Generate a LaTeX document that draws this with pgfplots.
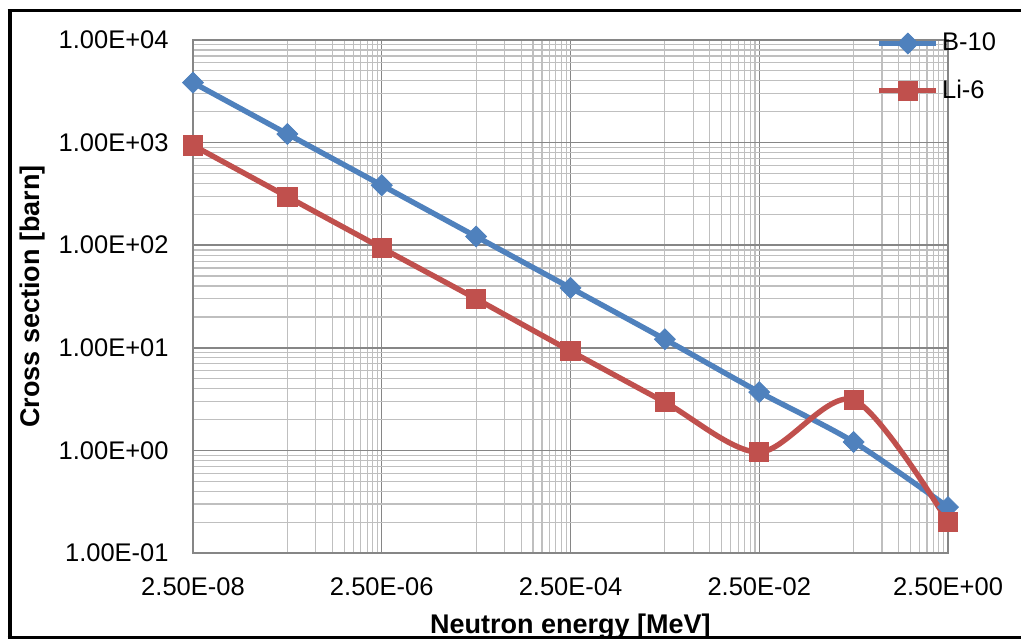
\documentclass[border=0pt]{standalone}
\usepackage{fontspec}
\setmainfont{Liberation Sans}
\usepackage{pgfplots}
\pgfplotsset{compat=1.18}

\definecolor{bBlue}{HTML}{4F81BD}
\definecolor{liRed}{HTML}{C0504D}
\definecolor{majGrid}{HTML}{868686}
\definecolor{minGrid}{HTML}{BFBFBF}

\begin{document}
\begin{tikzpicture}
\path[use as bounding box] (0pt,0pt) rectangle (510.5pt,319.5pt);
% chart frame
\draw[line width=1.5pt] (3.75pt,314.25pt) -- (510.5pt,314.25pt);
\draw[line width=1.5pt] (3.75pt,0.75pt) -- (510.5pt,0.75pt);
\draw[line width=2pt] (4.75pt,314.6pt) -- (4.75pt,0.4pt);

\begin{axis}[
  at={(96.5pt,43pt)}, anchor=south west,
  scale only axis, width=377.5pt, height=256.5pt,
  xmode=log, ymode=log,
  xmin=2.5e-8, xmax=2.5, ymin=0.1, ymax=10000,
  xtick={2.5e-8,2.5e-6,2.5e-4,2.5e-2,2.5},
  xticklabels={2.50E-08,2.50E-06,2.50E-04,2.50E-02,2.50E+00},
  minor xtick={2.5e-7,5e-7,7.5e-7,1e-6,1.25e-6,1.5e-6,1.75e-6,2e-6,2.25e-6,
               2.5e-5,5e-5,7.5e-5,1e-4,1.25e-4,1.5e-4,1.75e-4,2e-4,2.25e-4,
               2.5e-3,5e-3,7.5e-3,1e-2,1.25e-2,1.5e-2,1.75e-2,2e-2,2.25e-2,
               0.25,0.5,0.75,1,1.25,1.5,1.75,2,2.25},
  ytick={0.1,1,10,100,1000,10000},
  yticklabels={1.00E-01,1.00E+00,1.00E+01,1.00E+02,1.00E+03,1.00E+04},
  minor ytick={0.2,0.3,0.4,0.5,0.6,0.7,0.8,0.9,
               2,3,4,5,6,7,8,9,
               20,30,40,50,60,70,80,90,
               200,300,400,500,600,700,800,900,
               2000,3000,4000,5000,6000,7000,8000,9000},
  grid=both,
  major grid style={majGrid, line width=0.75pt},
  minor grid style={minGrid, line width=0.6pt},
  axis line style={majGrid, line width=0.75pt},
  major tick length=0pt, minor tick length=0pt,
  tick label style={font=\fontsize{12.75}{15}\selectfont},
  xticklabel style={anchor=base, inner sep=0pt, yshift=-21pt},
  yticklabel style={anchor=east, inner sep=0pt, xshift=-12pt},
  xlabel={Neutron energy [MeV]},
  ylabel={Cross section [barn]},
  every axis x label/.style={at={(axis description cs:0.5,0)}, anchor=base, yshift=-40pt,
    font=\bfseries\fontsize{13.5}{16}\selectfont},
  every axis y label/.style={at={(axis description cs:-0.2119,0.5)}, rotate=90, anchor=center,
    font=\bfseries\fontsize{13.5}{16}\selectfont},
  legend style={at={(axis description cs:0.905,1.02)}, anchor=north west,
    draw=none, fill=none, font=\fontsize{12.75}{15}\selectfont,
    row sep=10pt, inner sep=0pt, nodes={inner sep=1.5pt}},
  legend cell align=left,
  legend image code/.code={%
    \draw[mark repeat=2,mark phase=2,#1] plot coordinates {(0pt,0pt) (14.25pt,0pt) (28.5pt,0pt)};},
]
\addplot[bBlue, line width=2.7pt, smooth,
  mark=square*, mark size=3.7pt,
  mark options={solid, rotate=45, fill=bBlue, draw=bBlue, line width=0.4pt}]
  coordinates {
  (2.5e-8,3840) (2.5e-7,1214) (2.5e-6,384) (2.5e-5,121.4) (2.5e-4,38.4)
  (2.5e-3,12.1) (2.5e-2,3.7) (2.5e-1,1.21) (2.5,0.28)};
\addlegendentry{B-10}
\addplot[liRed, line width=2.7pt, smooth,
  mark=square*, mark size=4.8pt,
  mark options={solid, fill=liRed, draw=liRed, line width=0.4pt}]
  coordinates {
  (2.5e-8,940) (2.5e-7,297) (2.5e-6,94) (2.5e-5,30) (2.5e-4,9.3)
  (2.5e-3,2.95) (2.5e-2,0.96) (2.5e-1,3.1) (2.5,0.2)};
\addlegendentry{Li-6}
\end{axis}
\end{tikzpicture}
\end{document}
